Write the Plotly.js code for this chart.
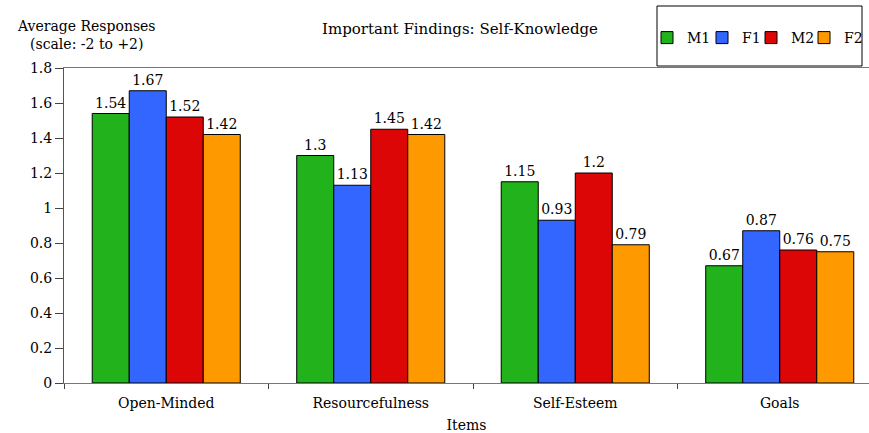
<!DOCTYPE html>
<html>
<head>
<meta charset="utf-8">
<script src="https://cdn.plot.ly/plotly-3.0.1.min.js"></script>
<style>html,body{margin:0;padding:0;background:#fff;}#chart{width:869px;height:433px;}</style>
</head>
<body>
<div id="chart"></div>
<script>
const categories = ["Open-Minded", "Resourcefulness", "Self-Esteem", "Goals"];
const seriesNames = ["M1", "F1", "M2", "F2"];
const M1 = [1.54, 1.3, 1.15, 0.67];
const F1 = [1.67, 1.13, 0.93, 0.87];
const M2 = [1.52, 1.45, 1.2, 0.76];
const F2 = [1.42, 1.42, 0.79, 0.75];
const yTickVals = [0, 0.2, 0.4, 0.6, 0.8, 1, 1.2, 1.4, 1.6, 1.8];
const yTickText = ["0", "0.2", "0.4", "0.6", "0.8", "1", "1.2", "1.4", "1.6", "1.8"];
const colors = ["#22b21c", "#3366ff", "#dd0606", "#ff9900"];

const FONT = "DejaVu Serif, Liberation Serif, serif";
const series = [M1, F1, M2, F2];
const legendIds = ["legend", "legend2", "legend3", "legend4"];
const data = series.map((vals, i) => ({
  type: "bar",
  name: seriesNames[i],
  legend: legendIds[i],
  x: categories,
  y: vals,
  text: vals.map(v => String(v)),
  textposition: "outside",
  constraintext: "none",
  cliponaxis: false,
  textfont: {family: FONT, size: 14, color: "#000"},
  marker: {color: colors[i], line: {color: "#000", width: 1}},
  hoverinfo: "x+y+name"
}));

const W = 869, L = 64, T = 68, PH = 315, PW = W - L;
const px = x => (x - L) / PW;
const py = y => 1 + (T - y) / PH;

const layout = {
  width: 869, height: 433,
  margin: {l: L, r: 0, t: T, b: 50, autoexpand: false},
  paper_bgcolor: "#fff", plot_bgcolor: "#fff",
  font: {family: FONT, size: 14, color: "#000"},
  barmode: "group",
  bargap: 0.276,
  bargroupgap: 0,
  showlegend: true,
  title: {text: "Important Findings: Self-Knowledge", font: {family: FONT, size: 15, color: "#000"},
          x: 460 / W, xanchor: "center", y: 1 - 29 / 433, yanchor: "middle"},
  xaxis: {
    type: "category",
    range: [-0.5, -0.5 + PW / 204.5],
    tickson: "boundaries",
    ticks: "outside", ticklen: 5, tickcolor: "#444", tickwidth: 1,
    ticklabelstandoff: 7,
    showline: true, linecolor: "#777", linewidth: 1, mirror: true,
    showgrid: false, zeroline: false,
    tickfont: {family: FONT, size: 14, color: "#000"},
    title: {text: "Items", font: {family: FONT, size: 14, color: "#000"}, standoff: 11},
    fixedrange: true
  },
  yaxis: {
    range: [0, 1.8],
    tickvals: yTickVals, ticktext: yTickText,
    ticks: "outside", ticklen: 8, tickcolor: "#444", tickwidth: 1,
    showline: true, linecolor: "#555", linewidth: 1,
    showgrid: false, zeroline: false,
    tickfont: {family: FONT, size: 14, color: "#000"},
    fixedrange: true
  },
  shapes: [{
    type: "rect", xref: "paper", yref: "paper",
    x0: px(657), x1: px(862), y0: py(66), y1: py(6),
    line: {color: "#000", width: 1}, fillcolor: "rgba(0,0,0,0)"
  }],
  annotations: [{
    text: "Average Responses<br>(scale: -2 to +2)",
    xref: "paper", yref: "paper",
    x: px(86), y: py(35), xanchor: "center", yanchor: "middle",
    showarrow: false, align: "center",
    font: {family: FONT, size: 14, color: "#000"}
  }]
};

const legendX = [647, 702, 751, 804];
legendIds.forEach((id, i) => {
  layout[id] = {
    orientation: "h",
    x: px(legendX[i]), xanchor: "left",
    y: py(38), yanchor: "middle",
    bgcolor: "rgba(0,0,0,0)", borderwidth: 0,
    font: {family: FONT, size: 14, color: "#000"},
    itemwidth: 30
  };
});

Plotly.newPlot("chart", data, layout, {displayModeBar: false, responsive: false});
</script>
</body>
</html>
